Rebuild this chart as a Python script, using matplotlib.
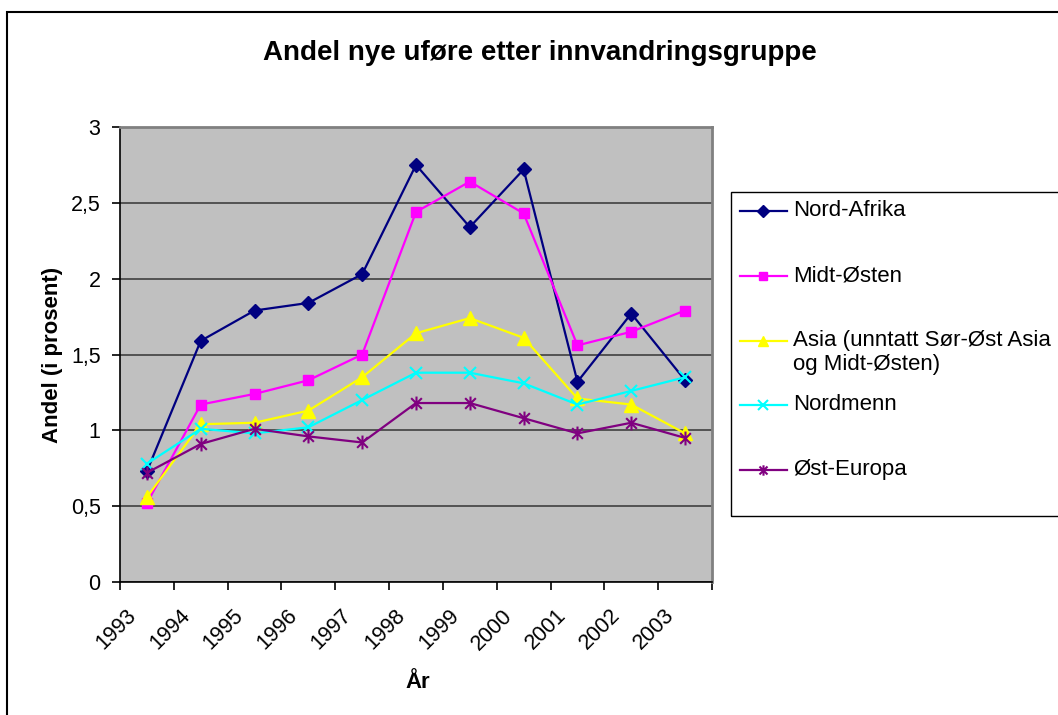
import matplotlib
matplotlib.use("Agg")
import matplotlib.pyplot as plt
import matplotlib.patches as mpatches
import matplotlib.transforms as mtransforms
from matplotlib.lines import Line2D
from matplotlib.path import Path
import numpy as np

plt.rcParams['font.family'] = ['Liberation Sans', 'DejaVu Sans']

# Data
years = ['1993', '1994', '1995', '1996', '1997', '1998', '1999', '2000', '2001', '2002', '2003']
nord_afrika = [0.73, 1.59, 1.79, 1.84, 2.03, 2.75, 2.34, 2.72, 1.32, 1.77, 1.33]
midt_osten = [0.52, 1.17, 1.24, 1.33, 1.50, 2.44, 2.64, 2.43, 1.56, 1.65, 1.79]
asia = [0.56, 1.04, 1.05, 1.13, 1.35, 1.64, 1.74, 1.61, 1.21, 1.17, 0.98]
nordmenn = [0.78, 1.01, 0.98, 1.02, 1.20, 1.38, 1.38, 1.31, 1.17, 1.26, 1.35]
ost_europa = [0.72, 0.91, 1.01, 0.96, 0.92, 1.18, 1.18, 1.08, 0.98, 1.05, 0.95]

labels = ['Nord-Afrika', 'Midt-Østen', 'Asia (unntatt Sør-Øst Asia\nog Midt-Østen)',
          'Nordmenn', 'Øst-Europa']
yticks = [0, 0.5, 1, 1.5, 2, 2.5, 3]
ytick_labels = ['0', '0,5', '1', '1,5', '2', '2,5', '3']

# Excel style asterisk marker (x with a vertical bar)
star = Path([(-1, -1), (1, 1), (-1, 1), (1, -1), (0, -1.3), (0, 1.3)],
            [Path.MOVETO, Path.LINETO, Path.MOVETO, Path.LINETO, Path.MOVETO, Path.LINETO])

styles = [
    dict(color='#000080', marker='D', ms=7.5),
    dict(color='#FF00FF', marker='s', ms=7.5),
    dict(color='#FFFF00', marker='^', ms=10),
    dict(color='#00FFFF', marker='x', ms=9, mew=1.5),
    dict(color='#800080', marker=star, ms=10, mew=1.5),
]
series = [nord_afrika, midt_osten, asia, nordmenn, ost_europa]

W, H = 1058, 715
fig = plt.figure(figsize=(W / 100, H / 100), dpi=100)
ax = fig.add_axes([120 / W, 1 - 582 / H, (712 - 120) / W, (582 - 127) / H])
ax.set_facecolor('#C0C0C0')

x = np.arange(len(years))
for vals, st in zip(series, styles):
    ax.plot(x, vals, lw=1.6, **st)

ax.set_xlim(-0.5, len(years) - 0.5)
ax.set_ylim(0, 3)
ax.set_yticks(yticks)
ax.set_yticklabels(ytick_labels, fontsize=15.5)
ax.yaxis.grid(True, color='#404040', lw=1.2)
ax.set_axisbelow(True)

ax.set_xticks(np.arange(-0.5, len(years), 1))
ax.set_xticklabels([])
ax.set_xticks(x, minor=True)
ax.set_xticklabels(years, minor=True, fontsize=15.5, rotation=45, ha='right',
                   va='center', rotation_mode='anchor')
ax.tick_params(axis='x', which='minor', length=0, pad=14)
ax.tick_params(axis='both', which='major', length=6, width=1.2, direction='out')
ax.tick_params(axis='y', pad=8)
shift = mtransforms.ScaledTranslation(-0.14, -0.11, fig.dpi_scale_trans)
for lbl in ax.get_xticklabels(minor=True):
    lbl.set_transform(lbl.get_transform() + shift)

for s in ['top', 'right']:
    ax.spines[s].set_color('#808080')
    ax.spines[s].set_linewidth(2)
for s in ['left', 'bottom']:
    ax.spines[s].set_color('black')
    ax.spines[s].set_linewidth(1.2)

fig.text(540 / W, 1 - 53 / H, 'Andel nye uføre etter innvandringsgruppe',
         fontsize=20, fontweight='bold', ha='center', va='center')
fig.text(53 / W, 1 - 355 / H, 'Andel (i prosent)', fontsize=16, fontweight='bold',
         rotation=90, ha='center', va='center')
fig.text(418 / W, 1 - 683 / H, 'År', fontsize=16, fontweight='bold',
         ha='center', va='center')

# Outer chart border
fig.patches.append(mpatches.Rectangle((7 / W, -0.1), 1.2, 1 - 12 / H + 0.1,
                                      transform=fig.transFigure, fill=False,
                                      edgecolor='black', lw=1.5))

# Legend box drawn Excel-style
fig.patches.append(mpatches.Rectangle((731 / W, 1 - 516 / H), 0.5, 324 / H,
                                      transform=fig.transFigure, fill=False,
                                      edgecolor='black', lw=1))
entry_y = [211, 276, 341, 405, 470]
for lab, st, yy in zip(labels, styles, entry_y):
    yf = 1 - yy / H
    fig.lines.append(Line2D([740 / W, 787 / W], [yf, yf], transform=fig.transFigure,
                            lw=1.6, color=st['color']))
    fig.lines.append(Line2D([763 / W], [yf], transform=fig.transFigure, lw=0,
                            color=st['color'], marker=st['marker'],
                            ms=st['ms'] * 0.75, mew=st.get('mew', 1)))
    if '\n' in lab:
        fig.text(793 / W, yf + 11 / H, lab, fontsize=16, ha='left', va='top',
                 linespacing=1.2)
    else:
        fig.text(793 / W, yf, lab, fontsize=16, ha='left', va='center')

fig.savefig('out.png', dpi=100, facecolor='white')
